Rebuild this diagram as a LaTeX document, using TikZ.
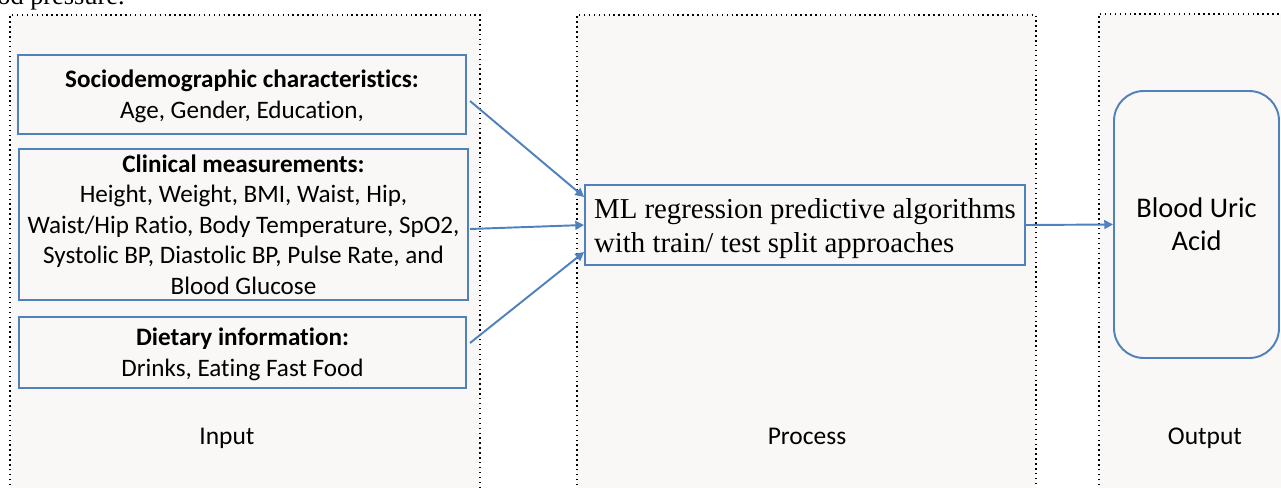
\documentclass[tikz,border=0pt]{standalone}
\usepackage{fontspec}
\setmainfont{Carlito}[Ligatures=NoCommon]
\newfontfamily\serifrm{Liberation Serif}
\usetikzlibrary{arrows.meta}
\definecolor{lineblue}{HTML}{4F81BD}
\definecolor{panelfill}{HTML}{F9F8F7}
\tikzset{
  panel/.style={draw=black, dotted, line width=0.8pt},
  inbox/.style={draw=lineblue, line width=1pt, fill=panelfill, align=center, inner sep=0pt, font=\fontsize{14.3pt}{17.4pt}\selectfont},
  conn/.style={draw=lineblue, line width=1.1pt, -{Triangle[length=5pt,width=5pt]}},
  lbl/.style={anchor=base, font=\fontsize{14.5pt}{17pt}\selectfont}
}
\begin{document}
\begin{tikzpicture}[x=0.02cm, y=-0.02cm]
\useasboundingbox (0,0) rectangle (1281,487);
\fill[white] (0,0) rectangle (1281,487);
\node[anchor=base west, inner sep=0pt, font=\serifrm\fontsize{15pt}{17pt}\selectfont] (frag) at (-3,4) {od pressure.};
% panels
\fill[panelfill] (10,15) rectangle (480,490);
\fill[panelfill] (577,15) rectangle (1036,490);
\fill[panelfill] (1099,14) rectangle (1290,490);
\draw[panel] (10,500) -- (10,15) -- (480,15) -- (480,500);
\draw[panel] (577,500) -- (577,15) -- (1036,15) -- (1036,500);
\draw[panel] (1099,500) -- (1099,14) -- (1290,14);
% input boxes
\node[inbox, minimum width=448*0.02cm, minimum height=79*0.02cm] (soc) at (242,94.5)
  {\raisebox{-1.5pt}[\height][\depth]{\begin{tabular}{@{}c@{}}\textbf{Sociodemographic characteristics:}\\Age, Gender, Education,\end{tabular}}};
\node[inbox, minimum width=449*0.02cm, minimum height=151*0.02cm] (clin) at (243.5,224.5)
  {\textbf{Clinical measurements:}\\Height, Weight, BMI, Waist, Hip,\\Waist/Hip Ratio, Body Temperature, SpO2,\\Systolic BP, Diastolic BP, Pulse Rate, and\\Blood Glucose};
\node[inbox, minimum width=447*0.02cm, minimum height=71*0.02cm] (diet) at (242.5,352.5)
  {\raisebox{-1.5pt}[\height][\depth]{\begin{tabular}{@{}c@{}}\textbf{Dietary information:}\\Drinks, Eating Fast Food\end{tabular}}};
% process
\node[draw=lineblue, line width=1pt, fill=panelfill, minimum width=440*0.02cm, minimum height=80*0.02cm, inner sep=0pt,
  font=\serifrm\fontsize{16.4pt}{19.3pt}\selectfont] (proc) at (805,225)
  {\raisebox{-2.3pt}[\height][\depth]{\begin{tabular}{@{}l@{}}ML regression predictive algorithms\\with train/ test split approaches\end{tabular}}};
% output
\node[draw=lineblue, line width=1.1pt, fill=panelfill, rounded corners=17pt, minimum width=165*0.02cm, minimum height=267*0.02cm,
  inner sep=0pt, align=center, font=\fontsize{16.2pt}{18.7pt}\selectfont] (out) at (1196.5,224.5)
  {Blood Uric\\Acid};
% labels
\node[lbl] (lin) at (227,444) {Input};
\node[lbl] (lpr) at (807,444) {Process};
\node[lbl] (lout) at (1205,444) {Output};
% connectors
\coordinate (a1) at (470,101);
\coordinate (a2) at (470,229);
\coordinate (a3) at (470,343);
\draw[conn] (a1) -- (proc.west |- 0,197);
\draw[conn] (a2) -- (proc.west |- 0,225);
\draw[conn] (a3) -- (proc.west |- 0,252);
\draw[conn] (proc.east) -- (out.west);
\end{tikzpicture}
\end{document}
